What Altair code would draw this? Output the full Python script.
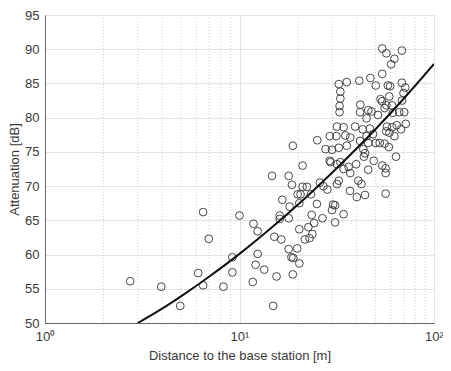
import altair as alt
import pandas as pd

# Scatter measurements: distance [m], attenuation [dB]
distance = [
    2.74, 3.96, 4.96, 6.13, 6.5, 6.5, 6.95, 8.27, 9.19, 9.19, 10.0,
    14.7, 17.9, 18.6, 21.1, 22.2, 25.9, 27.0, 28.3, 32.4, 19.9, 20.6, 23.3,
    16.6, 18.1, 20.3, 16.1, 16.1, 17.9, 25.0, 23.5, 30.3, 31.0, 29.9, 26.7,
    34.3, 11.8, 12.4, 24.2, 31.0, 15.1, 16.4, 20.3, 22.6, 23.7, 21.7, 22.9,
    17.9, 19.8, 18.5, 18.9, 20.3, 12.4, 12.1, 13.4, 11.7, 15.5, 18.8, 14.9,
    32.4, 33.0, 33.0, 32.7, 32.7, 35.6, 31.7, 34.3, 29.1, 31.5, 35.0, 37.1,
    25.1, 18.8, 27.7, 29.9, 32.4, 35.6, 29.1, 29.4, 31.7, 33.0, 34.3, 21.1,
    31.7,
    54.2, 56.9, 68.4, 62.6, 60.2, 54.2, 41.3, 47.1, 50.2, 57.9, 59.5, 68.4,
    71.1, 69.7, 53.1, 54.0, 58.9, 68.5, 41.8, 45.9, 47.7, 55.7, 56.9, 60.9,
    66.2, 70.3, 61.4, 41.7, 45.0, 51.5, 39.3, 43.0, 46.8, 48.6, 57.3, 61.0,
    64.3, 67.7, 71.6, 59.0, 62.6, 56.8, 45.0, 41.7, 45.9, 50.2, 52.6, 55.7,
    58.6, 43.3, 36.4, 37.1, 39.8, 43.6, 44.2, 49.0, 45.9, 54.2, 56.4, 56.4,
    63.8, 40.8, 42.4, 37.0, 40.1, 44.2, 56.4,
]
attenuation = [
    56.1, 55.3, 52.5, 57.3, 55.5, 66.2, 62.3, 55.3, 59.6, 57.4, 65.7,
    71.5, 71.5, 70.2, 69.9, 69.9, 70.5, 70.0, 69.5, 70.8, 68.8, 68.8, 68.8,
    68.0, 67.0, 67.5, 65.7, 65.2, 65.3, 67.4, 65.8, 67.3, 67.2, 66.5, 65.3,
    65.9, 64.5, 63.4, 64.6, 64.7, 62.6, 62.2, 63.7, 64.0, 63.0, 62.2, 62.4,
    60.8, 60.9, 59.6, 59.5, 58.7, 60.1, 58.5, 57.8, 56.0, 56.8, 57.1, 52.5,
    84.9, 83.8, 82.8, 81.7, 80.8, 85.2, 78.7, 78.6, 77.3, 77.3, 77.4, 77.1,
    76.7, 75.9, 75.4, 75.3, 75.6, 75.9, 73.7, 73.5, 73.2, 73.5, 72.5, 73.0,
    70.3,
    90.1, 89.4, 89.8, 88.6, 87.8, 86.4, 85.4, 85.8, 84.7, 84.7, 84.6, 85.1,
    84.4, 83.6, 82.7, 82.4, 83.1, 82.5, 81.9, 81.1, 80.9, 81.4, 81.8, 81.8,
    80.8, 80.8, 80.7, 80.8, 79.9, 80.4, 78.7, 78.3, 78.4, 77.6, 78.7, 78.6,
    78.9, 78.3, 79.1, 77.8, 77.3, 78.0, 77.3, 76.6, 76.3, 76.3, 76.3, 76.2,
    75.7, 75.4, 72.8, 71.9, 73.2, 74.3, 74.8, 73.7, 72.4, 73.0, 72.6, 71.9,
    74.3, 70.8, 70.3, 69.3, 68.4, 68.7, 68.9,
]

# Fitted curve
fit_distance = [3, 4, 5, 7, 10, 15, 20, 30, 50, 70, 100]
fit_attenuation = [50.0, 52.1, 53.9, 56.8, 60.1, 64.2, 67.3, 72.0, 78.3, 82.8, 87.85]

minor_x = [2, 3, 4, 5, 6, 7, 8, 9, 20, 30, 40, 50, 60, 70, 80, 90]
major_x = [1, 10, 100]
y_ticks = [50, 55, 60, 65, 70, 75, 80, 85, 90, 95]

pts = pd.DataFrame({"d": distance, "a": attenuation})
fit = pd.DataFrame({"d": fit_distance, "a": fit_attenuation})
minor = pd.DataFrame({"d": minor_x})

FONT = "Liberation Sans"
TXT = "#3a3a3a"

xscale = alt.Scale(type="log", domain=[1, 100], nice=False)
yscale = alt.Scale(domain=[50, 95], nice=False, zero=False)

xaxis = alt.Axis(
    values=major_x,
    labelExpr="datum.value == 1 ? '10⁰' : datum.value == 10 ? '10¹' : '10²'",
    title="Distance to the base station [m]",
    grid=True, gridColor="#e3e3e3", gridWidth=1,
    ticks=False, labelPadding=7, titlePadding=6,
    labelFontSize=13, titleFontSize=13, labelColor=TXT, titleColor=TXT,
    labelFont=FONT, titleFont=FONT, titleFontWeight="normal",
    domainColor="#666666",
    labelFlush=False,
)
yaxis = alt.Axis(
    values=y_ticks,
    title="Attenuation [dB]",
    grid=True, gridColor="#e3e3e3", gridWidth=1,
    ticks=False, labelPadding=6, titlePadding=3,
    labelFontSize=13, titleFontSize=13, labelColor=TXT, titleColor=TXT,
    labelFont=FONT, titleFont=FONT, titleFontWeight="normal",
    domainColor="#666666",
)

minor_grid = alt.Chart(minor).mark_rule(
    color="#cfcfcf", strokeDash=[1, 2], strokeWidth=1
).encode(x=alt.X("d:Q", scale=xscale, axis=xaxis))

points = alt.Chart(pts).mark_point(
    shape="circle", filled=False, size=60, stroke="#333333", strokeWidth=0.9, opacity=1
).encode(
    x=alt.X("d:Q", scale=xscale, axis=xaxis),
    y=alt.Y("a:Q", scale=yscale, axis=yaxis),
)

line = alt.Chart(fit).mark_line(
    color="#111111", strokeWidth=2, interpolate="monotone", clip=True
).encode(
    x=alt.X("d:Q", scale=xscale, axis=xaxis),
    y=alt.Y("a:Q", scale=yscale, axis=yaxis),
)

chart = alt.layer(minor_grid, points, line).properties(
    width=389, height=308,
    autosize=alt.AutoSizeParams(type="none"),
    padding={"left": 37, "top": 7, "right": 9, "bottom": 40},
    background="white",
).configure_view(stroke="#888888", strokeWidth=1)

chart.save("out.html", embed_options={"renderer": "svg", "actions": False})
